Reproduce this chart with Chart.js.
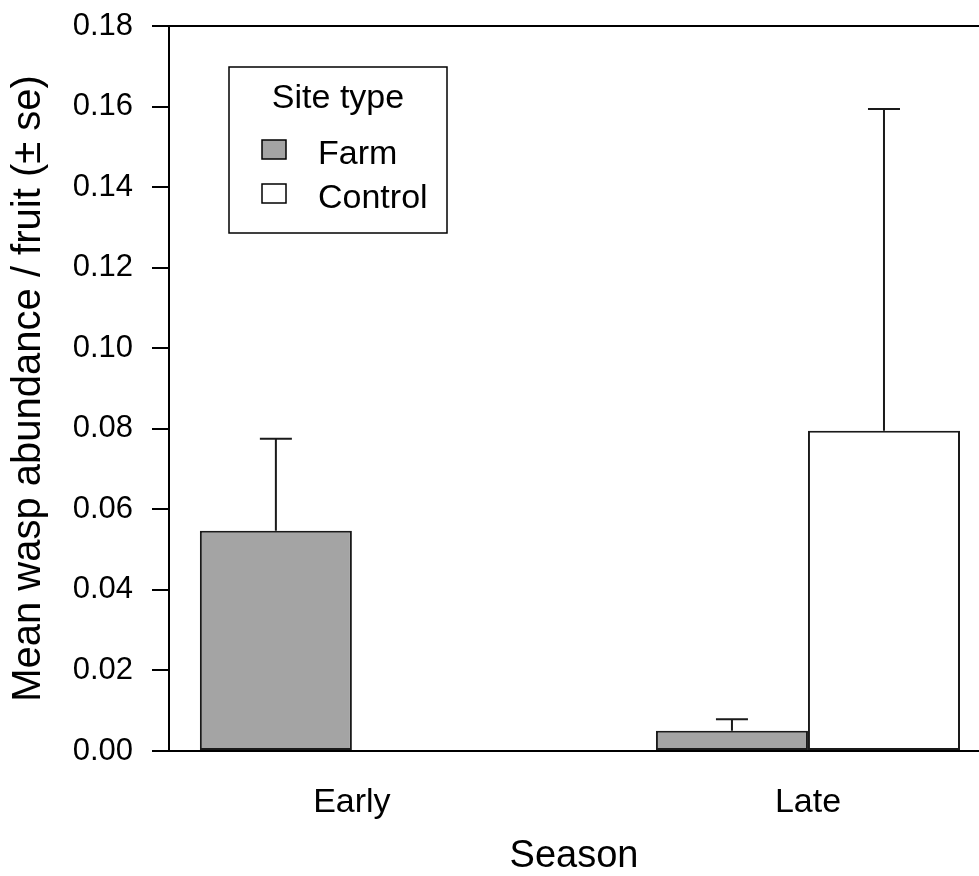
<!DOCTYPE html>
<html>
<head>
<meta charset="utf-8">
<title>Wasp abundance by season</title>
<script src="https://cdn.jsdelivr.net/npm/chart.js@4.4.1/dist/chart.umd.min.js"></script>
<style>
    html, body { margin: 0; padding: 0; background: #fff; }
    #wrap { width: 979px; height: 876px; }
</style>
</head>
<body>
<div id="wrap"><canvas id="waspChart" width="979" height="876"></canvas></div>
<script>
// Mean wasp abundance per fruit, by season and site type
const seasons = ['Early', 'Late'];
const farmMeans = [0.0547, 0.0050];
const farmSe = [0.0228, 0.0029];
const controlMeans = [0.0, 0.0795];
const controlSe = [0.0, 0.0799];
const yMin = 0;
const yMax = 0.18;
const yStep = 0.02;

const FONT = "'Liberation Sans', Arial, Helvetica, sans-serif";
const INK = '#000';
const FARM_FILL = '#a4a4a4';
const CONTROL_FILL = '#ffffff';

// x positions of the season groups on a linear scale
const xPos = seasons.map((s, i) => i + 1);

function toPoints(values) {
    return values.map((v, i) => ({ x: xPos[i], y: v }));
}

// Upward-only standard error bars with a short cap
const errorBars = {
    id: 'errorBars',
    afterDatasetsDraw(chart) {
        const ctx = chart.ctx;
        const yScale = chart.scales.y;
        ctx.save();
        ctx.strokeStyle = '#1a1a1a';
        ctx.lineWidth = 2;
        chart.data.datasets.forEach((ds, di) => {
            const meta = chart.getDatasetMeta(di);
            meta.data.forEach((bar, i) => {
                const se = ds.se[i];
                if (!se) return;
                const top = yScale.getPixelForValue(ds.data[i].y + se);
                const cap = 16;
                ctx.beginPath();
                ctx.moveTo(bar.x, bar.y);
                ctx.lineTo(bar.x, top);
                ctx.moveTo(bar.x - cap, top);
                ctx.lineTo(bar.x + cap, top);
                ctx.stroke();
            });
        });
        ctx.restore();
    }
};

// Top edge of the plot frame
const frameTop = {
    id: 'frameTop',
    afterDraw(chart) {
        const { ctx, chartArea } = chart;
        ctx.save();
        ctx.strokeStyle = INK;
        ctx.lineWidth = 2;
        ctx.beginPath();
        ctx.moveTo(chartArea.left, chartArea.top);
        ctx.lineTo(chartArea.right, chartArea.top);
        ctx.stroke();
        ctx.restore();
    }
};

// Boxed legend inside the plot, top left
const siteLegend = {
    id: 'siteLegend',
    afterDraw(chart) {
        const { ctx, chartArea } = chart;
        const left = chartArea.left + 60;
        const top = chartArea.top + 41;
        const w = 218;
        const h = 166;
        ctx.save();
        ctx.fillStyle = '#fff';
        ctx.fillRect(left, top, w, h);
        ctx.strokeStyle = INK;
        ctx.lineWidth = 1.5;
        ctx.strokeRect(left, top, w, h);

        ctx.fillStyle = INK;
        ctx.font = `34px ${FONT}`;
        ctx.textAlign = 'center';
        ctx.textBaseline = 'alphabetic';
        ctx.fillText('Site type', left + w / 2, top + 41);

        ctx.textAlign = 'left';
        chart.data.datasets.forEach((ds, i) => {
            const rowY = top + 97 + i * 44;
            ctx.fillStyle = ds.backgroundColor;
            ctx.fillRect(left + 33, rowY - 24, 24, 19);
            ctx.strokeStyle = INK;
            ctx.lineWidth = 1.5;
            ctx.strokeRect(left + 33, rowY - 24, 24, 19);
            ctx.fillStyle = INK;
            ctx.fillText(ds.label, left + 89, rowY);
        });
        ctx.restore();
    }
};

const ctx = document.getElementById('waspChart').getContext('2d');
new Chart(ctx, {
    type: 'bar',
    data: {
        datasets: [
            {
                label: 'Farm',
                data: toPoints(farmMeans),
                se: farmSe,
                backgroundColor: FARM_FILL,
                borderColor: '#1a1a1a',
                borderWidth: 2,
                borderSkipped: false,
            },
            {
                label: 'Control',
                data: toPoints(controlMeans),
                se: controlSe,
                backgroundColor: CONTROL_FILL,
                borderColor: '#1a1a1a',
                borderWidth: 2,
                borderSkipped: false,
            }
        ]
    },
    options: {
        responsive: false,
        animation: false,
        categoryPercentage: 2 / 3,
        barPercentage: 1,
        layout: { padding: { top: 26, left: 0, right: 0, bottom: 0 } },
        plugins: {
            legend: { display: false },
            tooltip: { enabled: false },
        },
        scales: {
            x: {
                type: 'linear',
                offset: false,
                min: 0.599,
                max: 2.375,
                afterFit(scale) {
                    scale.height = 125;
                    scale.paddingLeft = 0;
                    scale.paddingRight = 0;
                },
                afterBuildTicks(scale) {
                    scale.ticks = xPos.map(v => ({ value: v }));
                },
                grid: { display: false, drawTicks: false },
                border: { display: true, color: INK, width: 2 },
                ticks: {
                    color: INK,
                    padding: 31,
                    autoSkip: false,
                    maxRotation: 0,
                    font: { family: FONT, size: 34 },
                    callback: (v) => seasons[v - 1] || '',
                },
                title: {
                    display: true,
                    text: 'Season',
                    color: INK,
                    padding: { top: 0, bottom: 0 },
                    font: { family: FONT, size: 38, lineHeight: 1 },
                }
            },
            y: {
                min: yMin,
                max: yMax,
                afterFit(scale) {
                    scale.width = 169;
                    scale.paddingTop = 0;
                    scale.paddingBottom = 0;
                },
                grid: {
                    drawOnChartArea: false,
                    drawTicks: true,
                    tickLength: 17,
                    color: INK,
                    lineWidth: 2,
                },
                border: { display: true, color: INK, width: 2 },
                ticks: {
                    stepSize: yStep,
                    color: INK,
                    padding: 19,
                    font: { family: FONT, size: 31 },
                    callback: (v) => v.toFixed(2),
                },
                title: {
                    display: true,
                    text: 'Mean wasp abundance / fruit (± se)',
                    color: INK,
                    padding: { top: 9, bottom: 0 },
                    font: { family: FONT, size: 40, lineHeight: 1 },
                }
            }
        }
    },
    plugins: [errorBars, frameTop, siteLegend]
});
</script>
</body>
</html>
